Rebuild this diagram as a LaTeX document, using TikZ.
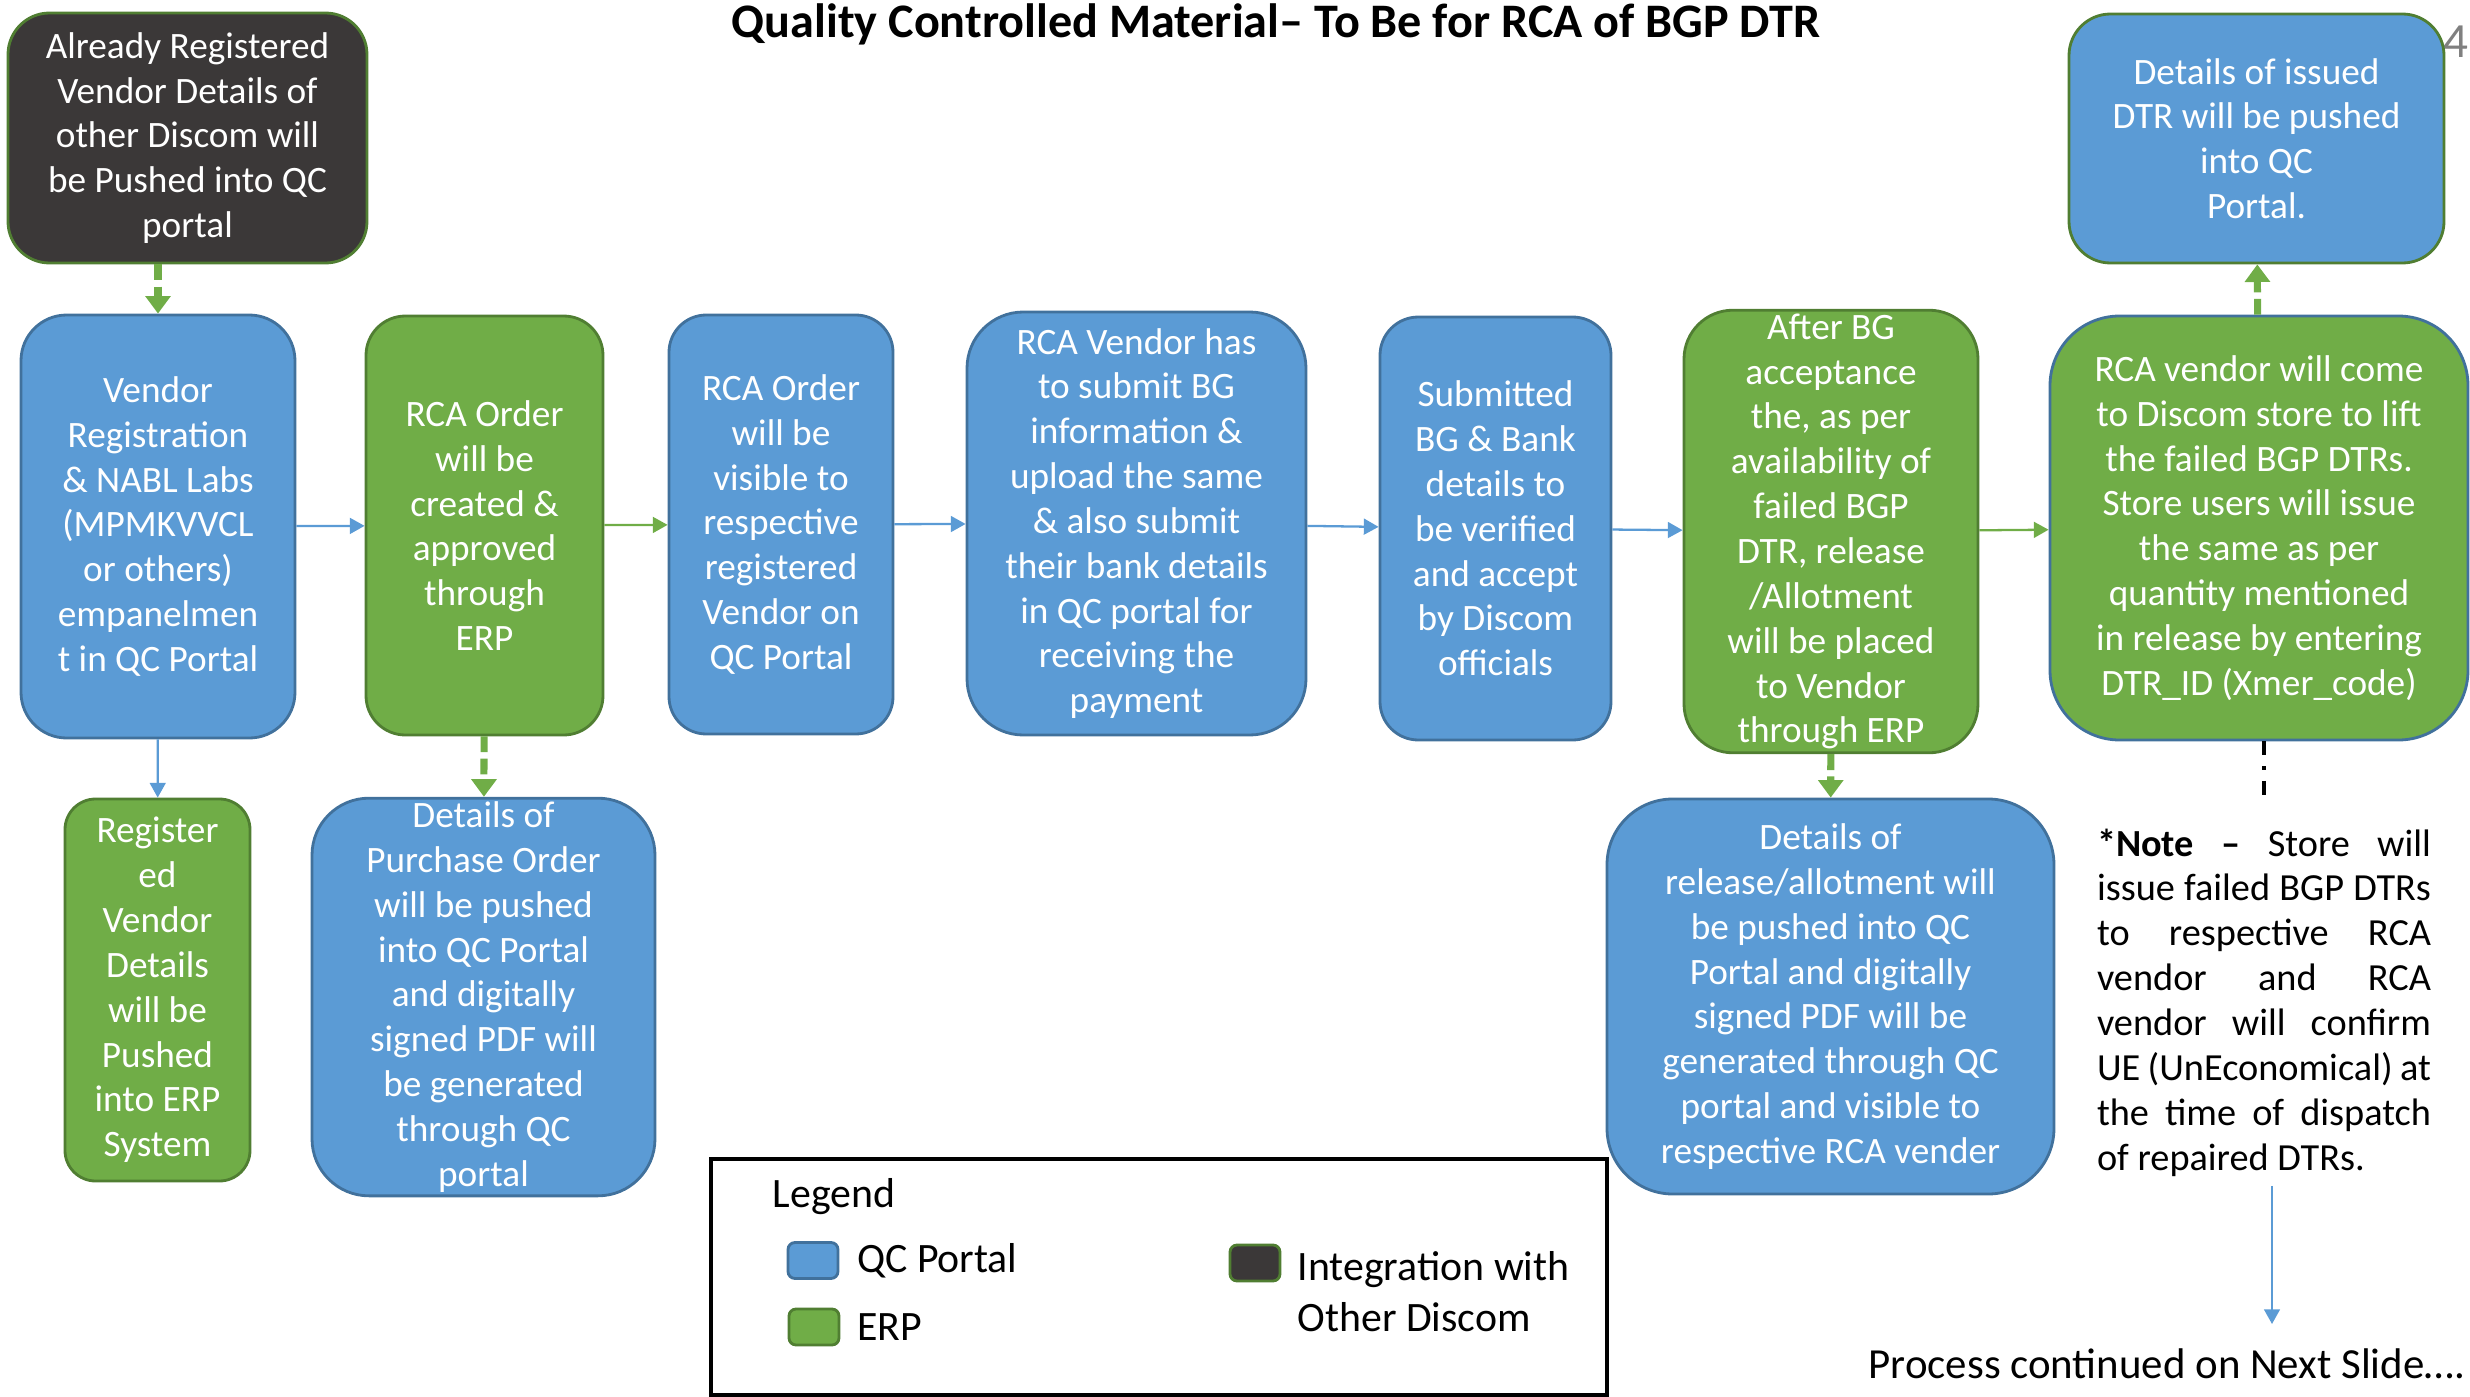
\documentclass[tikz,border=0pt]{standalone}
\usepackage{fontspec}
\setmainfont{Carlito}
\usetikzlibrary{positioning, arrows.meta, calc}

\definecolor{qcblue}{HTML}{5B9BD5}
\definecolor{qcblueline}{HTML}{41719C}
\definecolor{erpgreen}{HTML}{70AD47}
\definecolor{erpgreenline}{HTML}{507E32}
\definecolor{discomgray}{HTML}{3B3838}

\begin{document}
\begin{tikzpicture}[box/.style={line width=0.8pt, text=white, align=center, inner sep=1pt, font=\fontsize{10.6}{12.76}\selectfont},
  qc/.style={box, fill=qcblue, draw=qcblueline},
  erp/.style={box, fill=erpgreen, draw=erpgreenline},
  other/.style={box, fill=discomgray, draw=erpgreenline},
  bline/.style={draw=qcblue, line width=0.65pt, -{Triangle[length=4.2pt, width=4.5pt]}},
  gline/.style={draw=erpgreen, line width=0.65pt, -{Triangle[length=4.2pt, width=4.5pt]}},
  gpush/.style={draw=erpgreen, line width=2pt, dash pattern=on 4.5pt off 1.8pt, -{Triangle[length=5pt, width=7pt]}},
  swatch/.style={rounded corners=2pt, line width=0.8pt, minimum width=0.50cm, minimum height=0.36cm, inner sep=0pt},
  legtext/.style={inner sep=0pt, font=\fontsize{11.9}{14.5}\selectfont, align=left}]
  \useasboundingbox (0,0) rectangle (24.70,-13.97);

  \node[font=\bfseries\fontsize{13.7}{16}\selectfont] (title) at (12.76,-0.24) {Quality Controlled Material– To Be for RCA of BGP DTR};
  \node[text=gray, anchor=east, inner sep=0pt, font=\fontsize{14}{16}\selectfont] (pageno) at (24.69,-0.42) {4};

  % top row
  \node[other, rounded corners=11.8pt, minimum width=3.59cm, minimum height=2.50cm] (ext) at (1.875,-1.38) {Already Registered\\Vendor Details of\\other Discom will\\be Pushed into QC\\portal};
  \node[qc, rounded corners=11.8pt, minimum width=3.75cm, minimum height=2.49cm, draw=erpgreenline] (issued) at (22.565,-1.385) {Details of issued\\DTR will be pushed\\into QC\\Portal.};

  % main row
  \node[qc, rounded corners=13pt, minimum width=2.74cm, minimum height=4.23cm] (vendor) at (1.58,-5.265) {Vendor\\Registration\\\& NABL Labs\\(MPMKVVCL\\or others)\\empanelmen\\t in QC Portal};
  \node[erp, rounded corners=11.2pt, minimum width=2.37cm, minimum height=4.19cm] (order) at (4.845,-5.255) {RCA Order\\will be\\created \&\\approved\\through\\ERP};
  \node[qc, rounded corners=10.6pt, minimum width=2.24cm, minimum height=4.19cm] (visible) at (7.81,-5.245) {RCA Order\\will be\\visible to\\respective\\registered\\Vendor on\\QC Portal};
  \node[qc, rounded corners=16pt, minimum width=3.39cm, minimum height=4.23cm] (submit) at (11.365,-5.235) {RCA Vendor has\\to submit BG\\information \&\\upload the same\\\& also submit\\their bank details\\in QC portal for\\receiving the\\payment};
  \node[qc, rounded corners=10.9pt, minimum width=2.31cm, minimum height=4.23cm] (verify) at (14.955,-5.285) {Submitted\\BG \& Bank\\details to\\be verified\\and accept\\by Discom\\officials};
  \node[erp, rounded corners=13.9pt, minimum width=2.94cm, minimum height=4.31cm] (accept) at (18.31,-5.315) {After BG\\acceptance\\the, as per\\availability of\\failed BGP\\DTR, release\\/Allotment\\will be placed\\to Vendor\\through ERP};
  \node[erp, rounded corners=19.8pt, minimum width=4.18cm, minimum height=4.24cm, draw=qcblueline] (lift) at (22.59,-5.28) {RCA vendor will come\\to Discom store to lift\\the failed BGP DTRs.\\Store users will issue\\the same as per\\quantity mentioned\\in release by entering\\DTR\_ID (Xmer\_code)};

  % bottom row
  \node[erp, rounded corners=8.7pt, minimum width=1.85cm, minimum height=3.82cm] (regd) at (1.575,-9.90) {Register\\ed\\Vendor\\Details\\will be\\Pushed\\into ERP\\System};
  \node[qc, rounded corners=16.2pt, minimum width=3.43cm, minimum height=3.94cm] (podet) at (4.835,-9.97) {Details of\\Purchase Order\\will be pushed\\into QC Portal\\and digitally\\signed PDF will\\be generated\\through QC\\portal};
  \node[qc, rounded corners=18.7pt, minimum width=4.47cm, minimum height=3.95cm] (reldet) at (18.305,-9.965) {Details of\\release/allotment will\\be pushed into QC\\Portal and digitally\\signed PDF will be\\generated through QC\\portal and visible to\\respective RCA vender};

  \node[anchor=north, text width=3.34cm, align=justify, inner sep=0pt, font=\fontsize{10.9}{12.76}\selectfont] (note) at (22.64,-8.28) {\textbf{*Note –} Store will\linebreak issue failed BGP DTRs\linebreak to respective RCA\linebreak vendor and RCA\linebreak vendor will confirm\linebreak UE (UnEconomical) at\linebreak the time of dispatch\linebreak of repaired DTRs.};
  \node[anchor=west, inner sep=0pt, font=\fontsize{12.2}{14}\selectfont] (proc) at (18.68,-13.64) {Process continued on Next Slide….};
  \coordinate (cont) at (22.72,-13.24);

  % legend
  \node[draw, line width=0.9pt, minimum width=8.96cm, minimum height=2.36cm, inner sep=0pt] (legend) at (11.59,-12.77) {};
  \node[legtext, anchor=west] (legtitle) at (7.72,-11.97) {Legend};
  \node[swatch, fill=qcblue, draw=qcblueline] (sqc) at (8.13,-12.605) {};
  \node[swatch, fill=erpgreen, draw=erpgreenline] (serp) at (8.14,-13.27) {};
  \node[swatch, fill=discomgray, draw=erpgreenline] (soth) at (12.55,-12.63) {};
  \node[legtext, right=0.17cm of sqc] (lqc) {QC Portal};
  \node[legtext, right=0.16cm of serp] (lerp) {ERP};
  \node[legtext, anchor=west] (loth) at (12.97,-12.92) {Integration with\\Other Discom};

  % connectors
  \draw[gpush] (vendor.north |- ext.south) -- (vendor.north);
  \draw[bline] (vendor) -- (order);
  \draw[bline] (vendor) -- (regd);
  \draw[gline] (order) -- (visible);
  \draw[gpush] (order) -- (podet);
  \draw[bline] (visible) -- (submit);
  \draw[bline] (submit) -- (verify);
  \draw[bline] (verify) -- (accept);
  \draw[gline] (accept) -- (lift);
  \draw[gpush] (accept) -- (reldet);
  \draw[gpush] (lift) -- (issued);
  \draw[line width=1.2pt, dash pattern=on 4pt off 3pt on 1.2pt off 3pt, shorten >=0.32cm] (note.north |- lift.south) -- (note.north);
  \draw[bline, shorten <=0.09cm] (note.south -| cont) -- (cont);
\end{tikzpicture}
\end{document}
